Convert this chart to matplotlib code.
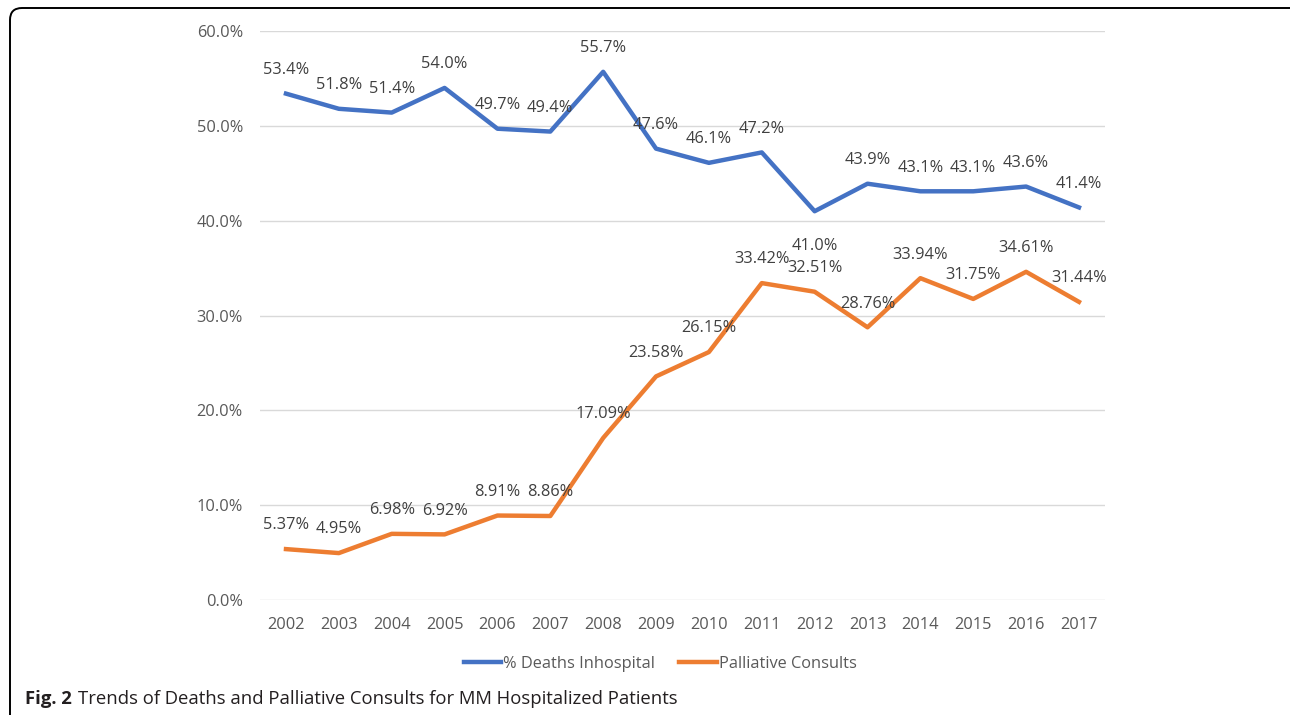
import matplotlib
matplotlib.use("Agg")
import matplotlib.pyplot as plt
from matplotlib.patches import FancyBboxPatch
from matplotlib.ticker import FuncFormatter

# data
years = ['2002', '2003', '2004', '2005', '2006', '2007', '2008', '2009',
         '2010', '2011', '2012', '2013', '2014', '2015', '2016', '2017']
deaths_inhosp = [53.4, 51.8, 51.4, 54.0, 49.7, 49.4, 55.7, 47.6,
                 46.1, 47.2, 41.0, 43.9, 43.1, 43.1, 43.6, 41.4]
palliative = [5.37, 4.95, 6.98, 6.92, 8.91, 8.86, 17.09, 23.58,
              26.15, 33.42, 32.51, 28.76, 33.94, 31.75, 34.61, 31.44]

plt.rcParams['font.family'] = ['Open Sans', 'DejaVu Sans']

blue = '#4472C4'
orange = '#ED7D31'
tick_col = '#595959'
lab_col = '#404040'
fs = 11.8

fig = plt.figure(figsize=(12.9, 7.15), dpi=100)
ax = fig.add_axes([0.2012, 0.1608, 0.6557, 0.7958])

x = list(range(len(years)))
ax.plot(x, deaths_inhosp, color=blue, lw=3.2, label='% Deaths Inhospital', solid_joinstyle='round')
ax.plot(x, palliative, color=orange, lw=3.2, label='Palliative Consults', solid_joinstyle='round')

# data labels
for i, v in enumerate(deaths_inhosp):
    dy = -25 if years[i] == '2012' else 17
    ax.annotate(f'{v:.1f}%', (i, v), xytext=(0, dy), textcoords='offset points',
                ha='center', va='center', fontsize=fs, color=lab_col)
for i, v in enumerate(palliative):
    ax.annotate(f'{v:.2f}%', (i, v), xytext=(0, 17), textcoords='offset points',
                ha='center', va='center', fontsize=fs, color=lab_col)

ax.set_xlim(-0.5, len(years) - 0.5)
ax.set_ylim(0, 60)
ax.set_yticks([0, 10, 20, 30, 40, 50, 60])
ax.yaxis.set_major_formatter(FuncFormatter(lambda v, p: f'{v:.1f}%'))
ax.set_xticks(x)
ax.set_xticklabels(years)
ax.grid(axis='y', color='#D9D9D9', lw=1)
ax.set_axisbelow(True)
for s in ax.spines.values():
    s.set_visible(False)
ax.tick_params(axis='both', length=0, labelsize=fs, colors=tick_col)
ax.tick_params(axis='y', pad=12)
ax.tick_params(axis='x', pad=12)

fig.legend(loc='center', bbox_to_anchor=(660 / 1290, 1 - 664 / 715), ncol=2,
           frameon=False, fontsize=fs, handlelength=2.3, handletextpad=0.1,
           columnspacing=1.5, labelcolor=tick_col)

# frame around the figure panel (right and bottom edges fall outside the image)
frame = FancyBboxPatch((0.10, -0.2), 13.5, 7.27, boxstyle='round,pad=0,rounding_size=0.12',
                       transform=fig.dpi_scale_trans, fill=False, ec='black', lw=1.4)
fig.patches.append(frame)

# caption: bold "Fig. 2" followed by regular text
renderer = fig.canvas.get_renderer()
cap_y = 1 - 699 / 715
t1 = fig.text(25 / 1290, cap_y, 'Fig. 2', fontsize=13.3, fontweight='bold', va='center', color='#231F20')
bb = t1.get_window_extent(renderer)
fig.text((bb.x1 + 6) / 1290, cap_y, 'Trends of Deaths and Palliative Consults for MM Hospitalized Patients',
         fontsize=13.3, va='center', color='#231F20')

fig.savefig('out.png', dpi=100)
